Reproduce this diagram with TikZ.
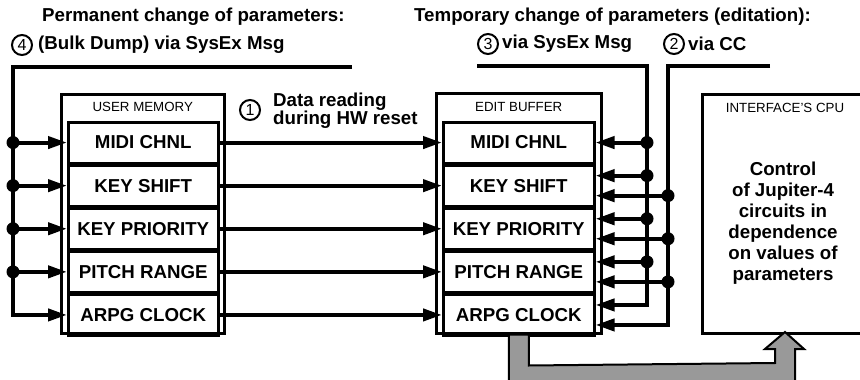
\documentclass[tikz,border=0pt]{standalone}
\usepackage{fontspec}
\setmainfont{Liberation Sans}
\usetikzlibrary{arrows.meta,calc}
\definecolor{arrgray}{RGB}{153,153,153}
\tikzset{
 hdr/.style={font=\fontsize{18.7}{21}\selectfont\bfseries, inner sep=0},
 boxlbl/.style={font=\fontsize{13.3}{15}\selectfont, inner sep=0},
 outerbox/.style={draw, line width=2.5pt, anchor=north west, inner sep=0},
 rowbox/.style={draw, line width=2.5pt, minimum height=40.6pt, anchor=north west, inner sep=0, font=\fontsize{18.7}{21}\selectfont\bfseries},
 conn/.style={line width=4pt, -{Triangle[length=19pt,width=12pt]}},
 jdot/.style={circle, fill, inner sep=0, minimum size=13pt},
 cnum/.style={circle, draw, line width=2pt, inner sep=0, minimum size=20pt, font=\fontsize{16}{16}\selectfont},
}
\begin{document}
\begin{tikzpicture}[x=1pt,y=-1pt]
\clip (0,0) rectangle (860,380);
\fill[white] (0,0) rectangle (860,380);

% headings
\node[hdr, anchor=west] (perm) at (42,17) {Permanent change of parameters:};
\node[hdr, anchor=west] (temp) at (414,17) {Temporary change of parameters (editation):};
\node[cnum] (n4) at (22,45) {4};
\node[hdr, anchor=west] (t4) at (38,45) {(Bulk Dump) via SysEx Msg};
\node[cnum] (n3) at (488,44) {3};
\node[hdr, anchor=west] (t3) at (502,44) {via SysEx Msg};
\node[cnum] (n2) at (674,44) {2};
\node[hdr, anchor=west] (t2) at (688,44) {via CC};
\node[cnum] (n1) at (250,110) {1};
\node[hdr, anchor=west, align=left, font=\fontsize{18.7}{18}\selectfont\bfseries] (t1) at (273,111) {Data reading\\during HW reset};

% user memory
\node[outerbox, minimum width=163pt, minimum height=239pt] (um) at (60,93) {};
\node[boxlbl] (uml) at ($(um.north)+(0,14)$) {USER MEMORY};
\node[rowbox, minimum width=150pt] (u1) at (67,121) {MIDI CHNL};
\node[rowbox, minimum width=150pt] (u2) at (u1.south west) {KEY SHIFT};
\node[rowbox, minimum width=150pt] (u3) at (u2.south west) {KEY PRIORITY};
\node[rowbox, minimum width=150pt] (u4) at (u3.south west) {PITCH RANGE};
\node[rowbox, minimum width=150pt] (u5) at (u4.south west) {ARPG CLOCK};

% edit buffer
\node[outerbox, minimum width=165pt, minimum height=240pt] (eo) at (435,92) {};
\node[boxlbl] (eol) at ($(eo.north)+(0,15)$) {EDIT BUFFER};
\node[rowbox, minimum width=151pt] (e1) at (442,121) {MIDI CHNL};
\node[rowbox, minimum width=151pt] (e2) at (e1.south west) {KEY SHIFT};
\node[rowbox, minimum width=151pt] (e3) at (e2.south west) {KEY PRIORITY};
\node[rowbox, minimum width=151pt] (e4) at (e3.south west) {PITCH RANGE};
\node[rowbox, minimum width=151pt] (e5) at (e4.south west) {ARPG CLOCK};

% CPU
\node[outerbox, minimum width=190pt, minimum height=239pt] (cpu) at (701,93) {};
\node[boxlbl] (cpul) at (785,108) {INTERFACE'S CPU};
\node[hdr, align=center, font=\fontsize{18.7}{21}\selectfont\bfseries] (cput) at (783,223) {Control\\of Jupiter-4\\circuits in\\dependence\\on values of\\parameters};

% reset connections
\foreach \i in {1,...,5} {
  \draw[conn] (u\i.east) -- (e\i.west);
}

% left bus (4)
\coordinate (lt) at (352,67);
\coordinate (lc) at (13,67);
\draw[conn] (lt) -- (lc) |- (u5.west);
\foreach \i in {1,...,4} {
  \draw[conn] (lc |- u\i.west) -- (u\i.west);
  \node[jdot] at (lc |- u\i.west) {};
}

% line 3 (SysEx)
\coordinate (t3s) at (477,66);
\coordinate (t3c) at (647,66);
\draw[conn] (t3s) -- (t3c) |- ($(e5.east)+(0,-10)$);
\draw[conn] (t3c |- e1.east) -- (e1.east);
\node[jdot] at (t3c |- e1.east) {};
\foreach \i in {2,3,4} {
  \coordinate (p) at ($(e\i.east)+(0,-10)$);
  \draw[conn] (t3c |- p) -- (p);
  \node[jdot] at (t3c |- p) {};
}

% line 2 (CC)
\coordinate (t2e) at (770,66);
\coordinate (t2c) at (668,66);
\draw[conn] (t2e) -- (t2c) |- ($(e5.east)+(0,10)$);
\foreach \i in {2,3,4} {
  \coordinate (q) at ($(e\i.east)+(0,10)$);
  \draw[conn] (t2c |- q) -- (q);
  \node[jdot] at (t2c |- q) {};
}

% gray arrow
\coordinate (gtip) at (785,332);
\draw[fill=arrgray, line width=2pt, line join=miter]
  ($(eo.south)+(-10,0)$) -- ++(0,70) -- ($(gtip)+(10,70)$) -- ($(gtip)+(10,17)$) -- ($(gtip)+(19,17)$) -- (gtip)
  -- ($(gtip)+(-20,17)$) -- ($(gtip)+(-10,17)$) -- ($(gtip)+(-10,31)$) -- ($(eo.south)+(10,31)$) -- ($(eo.south)+(10,0)$) -- cycle;
\end{tikzpicture}
\end{document}
